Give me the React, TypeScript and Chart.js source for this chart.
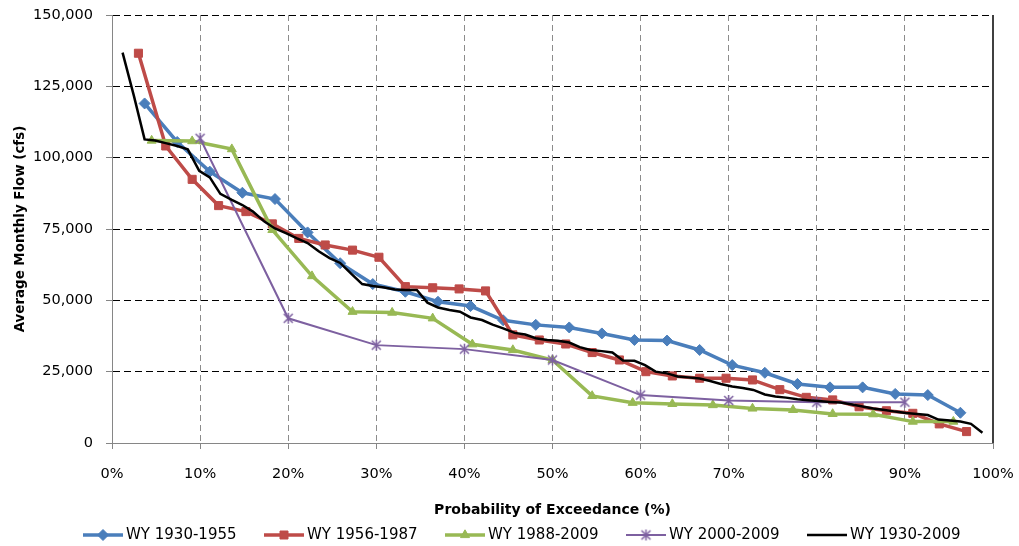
import React, { useEffect, useRef } from 'react';
import { Chart, registerables } from 'chart.js';

Chart.register(...registerables);

// ---- Data ----
const seriesNames = ['WY 1930-1955', 'WY 1956-1987', 'WY 1988-2009', 'WY 2000-2009', 'WY 1930-2009'];

const xTickValues = [0, 10, 20, 30, 40, 50, 60, 70, 80, 90, 100];
const yTickValues = [0, 25000, 50000, 75000, 100000, 125000, 150000];

const prob1930_1955 = [3.7, 7.4, 11.1, 14.8, 18.5, 22.2, 25.9, 29.6, 33.3, 37.0, 40.7, 44.4, 48.1, 51.9, 55.6, 59.3, 63.0, 66.7, 70.4, 74.1, 77.8, 81.5, 85.2, 88.9, 92.6, 96.3];
const flow1930_1955 = [119000, 105500, 95100, 87700, 85500, 73800, 63000, 55700, 53000, 49500, 48000, 43000, 41400, 40500, 38400, 36100, 35900, 32600, 27300, 24600, 20700, 19500, 19500, 17200, 16800, 10600];

const prob1956_1987 = [3.0, 6.1, 9.1, 12.1, 15.2, 18.2, 21.2, 24.2, 27.3, 30.3, 33.3, 36.4, 39.4, 42.4, 45.5, 48.5, 51.5, 54.5, 57.6, 60.6, 63.6, 66.7, 69.7, 72.7, 75.8, 78.8, 81.8, 84.8, 87.9, 90.9, 93.9, 97.0];
const flow1956_1987 = [136600, 104100, 92400, 83200, 81100, 76800, 71700, 69400, 67600, 65100, 54800, 54400, 54000, 53300, 37900, 36100, 34700, 31700, 29100, 25000, 23500, 22700, 22700, 22100, 18700, 16000, 15100, 12700, 11300, 10400, 6700, 4000];

const prob1988_2009 = [4.5, 9.1, 13.6, 18.2, 22.7, 27.3, 31.8, 36.4, 40.9, 45.5, 50.0, 54.5, 59.1, 63.6, 68.2, 72.7, 77.3, 81.8, 86.4, 90.9, 95.5];
const flow1988_2009 = [106000, 105800, 103000, 74700, 58500, 46000, 45700, 43700, 34600, 32600, 29100, 16500, 14100, 13700, 13300, 12100, 11600, 10200, 10100, 7500, 7500];

const prob2000_2009 = [10, 20, 30, 40, 50, 60, 70, 80, 90];
const flow2000_2009 = [106800, 43700, 34300, 32900, 29100, 16800, 14900, 14300, 14300];

const prob1930_2009 = [1.2, 2.5, 3.7, 4.9, 6.2, 7.4, 8.6, 9.9, 11.1, 12.3, 13.6, 14.8, 16.0, 17.3, 18.5, 19.8, 21.0, 22.2, 23.5, 24.7, 25.9, 27.2, 28.4, 29.6, 30.9, 32.1, 33.3, 34.6, 35.8, 37.0, 38.3, 39.5, 40.7, 42.0, 43.2, 44.4, 45.7, 46.9, 48.1, 49.4, 50.6, 51.9, 53.1, 54.3, 55.6, 56.8, 58.0, 59.3, 60.5, 61.7, 63.0, 64.2, 65.4, 66.7, 67.9, 69.1, 70.4, 71.6, 72.8, 74.1, 75.3, 76.5, 77.8, 79.0, 80.2, 81.5, 82.7, 84.0, 85.2, 86.4, 87.7, 88.9, 90.1, 91.4, 92.6, 93.8, 95.1, 96.3, 97.5, 98.8];
const flow1930_2009 = [136800, 121500, 106400, 106000, 105000, 104100, 102900, 95400, 93100, 87300, 85200, 83400, 81100, 77600, 75200, 73500, 71700, 70100, 67100, 64800, 63100, 59200, 55700, 55000, 54500, 53800, 53600, 53600, 49200, 47500, 46600, 46000, 44000, 43100, 41500, 40200, 38600, 38000, 36700, 36100, 35800, 35200, 33600, 32600, 32200, 31700, 28900, 28800, 27300, 25000, 24400, 23300, 23000, 22600, 21700, 20700, 19800, 19300, 18600, 17000, 16300, 15900, 15300, 15000, 14700, 14400, 14200, 13500, 12800, 12100, 11600, 11000, 10500, 10200, 9800, 8200, 7900, 7500, 6700, 3600];

// ---- Styles ----
const COLORS = ['#4A7EBB', '#BE4B48', '#98B954', '#7D60A0', '#000000'];
const FONT = "'DejaVu Sans', 'Liberation Sans', sans-serif";
const AXIS_GRAY = '#868686';

function toPoints(xs: number[], ys: number[]) {
  return xs.map((x, i) => ({ x, y: ys[i] }));
}

function makeStarCanvas(color: string) {
  const c = document.createElement('canvas');
  c.width = 13;
  c.height = 13;
  const g = c.getContext('2d')!;
  g.strokeStyle = color;
  g.lineWidth = 1.5;
  g.beginPath();
  g.moveTo(2, 2); g.lineTo(11, 11);
  g.moveTo(11, 2); g.lineTo(2, 11);
  g.moveTo(6.5, 1); g.lineTo(6.5, 12);
  g.stroke();
  return c;
}

function drawMarker(ctx: CanvasRenderingContext2D, kind: string, x: number, y: number, color: string, star?: HTMLCanvasElement) {
  ctx.save();
  ctx.fillStyle = color;
  ctx.strokeStyle = color;
  ctx.lineWidth = 1;
  ctx.beginPath();
  if (kind === 'diamond') {
    const r = 5.5;
    ctx.moveTo(x, y - r); ctx.lineTo(x + r, y); ctx.lineTo(x, y + r); ctx.lineTo(x - r, y); ctx.closePath();
    ctx.fill(); ctx.stroke();
  } else if (kind === 'square') {
    const h = 4;
    ctx.rect(x - h, y - h, 2 * h, 2 * h);
    ctx.fill(); ctx.stroke();
  } else if (kind === 'triangle') {
    const r = 5.2;
    ctx.moveTo(x, y - r);
    ctx.lineTo(x + r * 0.866, y + r * 0.5);
    ctx.lineTo(x - r * 0.866, y + r * 0.5);
    ctx.closePath();
    ctx.fill(); ctx.stroke();
  } else if (kind === 'star' && star) {
    ctx.drawImage(star, x - star.width / 2, y - star.height / 2);
  }
  ctx.restore();
}

export default function App() {
  const canvasRef = useRef<HTMLCanvasElement | null>(null);

  useEffect(() => {
    document.body.style.margin = '0';
    const canvas = canvasRef.current;
    if (!canvas) return;
    const star = makeStarCanvas(COLORS[3]);
    const markerKinds = ['diamond', 'square', 'triangle', 'star', 'none'];

    const legendPlugin = {
      id: 'lineMarkerLegend',
      afterDraw(chart: any) {
        const ctx: CanvasRenderingContext2D = chart.ctx;
        ctx.save();
        chart.data.datasets.forEach((ds: any, i: number) => {
          const x0 = 83 + i * 181;
          const y = 535;
          ctx.strokeStyle = ds.borderColor;
          ctx.lineWidth = ds.borderWidth;
          ctx.setLineDash([]);
          ctx.beginPath();
          ctx.moveTo(x0, y);
          ctx.lineTo(x0 + 40, y);
          ctx.stroke();
          if (markerKinds[i] !== 'none') drawMarker(ctx, markerKinds[i], x0 + 20, y, ds.borderColor, star);
          ctx.fillStyle = '#000';
          ctx.font = `15px ${FONT}`;
          ctx.textAlign = 'left';
          ctx.textBaseline = 'middle';
          ctx.fillText(ds.label, x0 + 43, y + 0.5);
        });
        ctx.restore();
      },
    };

    const frameRight = {
      id: 'frameRight',
      afterDraw(chart: any) {
        const { ctx, chartArea } = chart;
        ctx.save();
        ctx.strokeStyle = '#000';
        ctx.lineWidth = 1.5;
        ctx.beginPath();
        ctx.moveTo(chartArea.right, chartArea.top);
        ctx.lineTo(chartArea.right, chartArea.bottom);
        ctx.stroke();
        ctx.restore();
      },
    };

    const chart = new Chart(canvas, {
      type: 'scatter',
      data: {
        datasets: [
          {
            label: seriesNames[0],
            data: toPoints(prob1930_1955, flow1930_1955),
            showLine: true,
            borderColor: COLORS[0],
            backgroundColor: COLORS[0],
            borderWidth: 3.5,
            pointStyle: 'rectRot',
            pointRadius: 5.5,
            pointBorderWidth: 1,
            order: 4,
          },
          {
            label: seriesNames[1],
            data: toPoints(prob1956_1987, flow1956_1987),
            showLine: true,
            borderColor: COLORS[1],
            backgroundColor: COLORS[1],
            borderWidth: 3.5,
            pointStyle: 'rect',
            pointRadius: 5.7,
            pointBorderWidth: 1,
            order: 3,
          },
          {
            label: seriesNames[2],
            data: toPoints(prob1988_2009, flow1988_2009),
            showLine: true,
            borderColor: COLORS[2],
            backgroundColor: COLORS[2],
            borderWidth: 3.5,
            pointStyle: 'triangle',
            pointRadius: 5.2,
            pointBorderWidth: 1,
            order: 2,
          },
          {
            label: seriesNames[3],
            data: toPoints(prob2000_2009, flow2000_2009),
            showLine: true,
            borderColor: COLORS[3],
            backgroundColor: COLORS[3],
            borderWidth: 2,
            pointStyle: star as any,
            pointRadius: 6,
            order: 1,
          },
          {
            label: seriesNames[4],
            data: toPoints(prob1930_2009, flow1930_2009),
            showLine: true,
            borderColor: COLORS[4],
            backgroundColor: COLORS[4],
            borderWidth: 2.5,
            pointRadius: 0,
            order: 0,
          },
        ],
      },
      options: {
        responsive: false,
        animation: false,
        events: [],
        layout: { padding: { left: 0, right: 26, top: 15, bottom: 26 } },
        plugins: {
          legend: { display: false },
          tooltip: { enabled: false },
        },
        scales: {
          x: {
            type: 'linear',
            min: 0,
            max: 100,
            afterBuildTicks: (scale: any) => {
              scale.ticks = xTickValues.map((v) => ({ value: v }));
            },
            afterFit: (scale: any) => {
              scale.height = 77;
              scale.paddingLeft = 0;
              scale.paddingRight = 0;
              scale.paddingTop = 0;
              scale.paddingBottom = 0;
            },
            ticks: {
              callback: (v: any) => `${v}%`,
              font: { family: FONT, size: 14.5 },
              color: '#000',
              padding: 17,
              maxRotation: 0,
              autoSkip: false,
            },
            grid: {
              color: (c: any) => (c.tick && (c.tick.value === 0 || c.tick.value === 100) ? 'rgba(0,0,0,0)' : '#8C8C8C'),
              lineWidth: 1,
              tickLength: 6,
              tickColor: AXIS_GRAY,
            },
            border: { color: AXIS_GRAY, width: 1, dash: [6, 4] },
            title: {
              display: true,
              text: 'Probability of Exceedance (%)',
              font: { family: FONT, size: 14, weight: 'bold' },
              color: '#000',
              padding: { top: 0, bottom: 1 },
            },
          },
          y: {
            type: 'linear',
            min: 0,
            max: 150000,
            afterBuildTicks: (scale: any) => {
              scale.ticks = yTickValues.map((v) => ({ value: v }));
            },
            afterFit: (scale: any) => {
              scale.width = 112;
              scale.paddingLeft = 0;
              scale.paddingRight = 0;
              scale.paddingTop = 0;
              scale.paddingBottom = 0;
            },
            ticks: {
              callback: (v: any) => Number(v).toLocaleString('en-US'),
              font: { family: FONT, size: 14.5 },
              color: '#000',
              padding: 13,
            },
            grid: {
              color: (c: any) => (c.tick && c.tick.value === 0 ? 'rgba(0,0,0,0)' : '#000'),
              lineWidth: 1,
              tickLength: 6,
              tickColor: AXIS_GRAY,
            },
            border: { color: AXIS_GRAY, width: 1, dash: [7, 4] },
            title: {
              display: true,
              text: 'Average Monthly Flow (cfs)',
              font: { family: FONT, size: 13.4, weight: 'bold' },
              color: '#000',
              padding: { top: 12.5, bottom: 0 },
            },
          },
        },
      },
      plugins: [legendPlugin, frameRight],
    } as any);

    return () => {
      chart.destroy();
    };
  }, []);

  return (
    <div style={{ width: 1019, height: 546 }}>
      <canvas ref={canvasRef} width={1019} height={546} style={{ display: 'block' }} />
    </div>
  );
}
